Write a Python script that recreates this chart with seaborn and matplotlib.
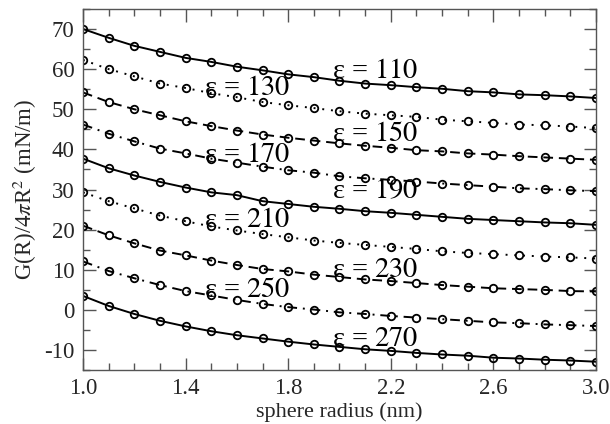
import numpy as np
import pandas as pd
import seaborn as sns
import matplotlib.pyplot as plt
from matplotlib.ticker import MultipleLocator

radius = [1.0, 1.1, 1.2, 1.3, 1.4, 1.5, 1.6, 1.7, 1.8, 1.9, 2.0,
          2.1, 2.2, 2.3, 2.4, 2.5, 2.6, 2.7, 2.8, 2.9, 3.0]

eps_110 = [70.0, 67.8, 65.8, 64.3, 62.8, 61.8, 60.6, 59.7, 58.7, 58.0, 57.1,
           56.4, 56.0, 55.5, 55.1, 54.5, 54.2, 53.7, 53.5, 53.2, 52.8]
eps_130 = [62.3, 60.0, 58.2, 56.4, 55.3, 54.0, 53.0, 51.8, 51.0, 50.3, 49.5,
           48.9, 48.5, 48.1, 47.4, 47.0, 46.6, 46.2, 46.0, 45.7, 45.3]
eps_150 = [54.2, 51.8, 50.0, 48.5, 47.0, 45.8, 44.7, 43.7, 42.9, 42.2, 41.5,
           40.9, 40.4, 39.8, 39.5, 39.0, 38.7, 38.3, 38.0, 37.7, 37.4]
eps_170 = [46.2, 43.9, 42.0, 40.2, 39.0, 37.7, 36.7, 35.7, 34.8, 34.2, 33.3,
           32.8, 32.4, 32.0, 31.5, 31.1, 30.7, 30.3, 30.1, 29.8, 29.6]
eps_190 = [37.7, 35.3, 33.5, 31.9, 30.5, 29.3, 28.6, 27.1, 26.4, 25.7, 25.2,
           24.6, 24.2, 23.7, 23.2, 22.7, 22.4, 22.1, 21.8, 21.6, 21.2]
eps_210 = [29.3, 27.1, 25.3, 23.5, 22.1, 20.8, 19.8, 18.9, 18.1, 17.3, 16.7,
           16.2, 15.7, 15.2, 14.6, 14.2, 13.9, 13.6, 13.3, 13.1, 12.8]
eps_230 = [21.0, 18.6, 16.6, 14.8, 13.6, 12.3, 11.2, 10.2, 9.6, 8.8, 8.2,
           7.6, 7.2, 6.7, 6.2, 5.8, 5.4, 5.2, 5.0, 4.7, 4.6]
eps_250 = [12.1, 9.7, 7.9, 6.2, 4.7, 3.6, 2.5, 1.5, 0.7, 0.1, -0.6,
           -1.0, -1.5, -1.9, -2.3, -2.7, -3.1, -3.3, -3.6, -3.8, -4.0]
eps_270 = [3.5, 1.0, -1.0, -2.7, -4.1, -5.3, -6.3, -7.1, -7.9, -8.6, -9.2,
           -9.8, -10.2, -10.7, -11.1, -11.4, -11.9, -12.1, -12.4, -12.6, -12.9]

eps_values = [110, 130, 150, 170, 190, 210, 230, 250, 270]
series = [eps_110, eps_130, eps_150, eps_170, eps_190,
          eps_210, eps_230, eps_250, eps_270]

# label anchor (radius, value) for each curve
label_x = [1.97, 1.47, 1.97, 1.47, 1.97, 1.47, 1.97, 1.47, 1.97]
label_y = [59.4, 55.1, 43.6, 38.6, 29.4, 22.4, 9.9, 4.9, -7.4]

styles = ['-', (0, (1, 3.5)), (0, (5, 3)), (0, (5, 3, 1, 3)),
          '-', (0, (1, 3.5)), (0, (5, 3)), (0, (5, 3, 1, 3)), '-']

sns.set_style('ticks')
plt.rcParams['font.family'] = ['Liberation Serif', 'DejaVu Serif']
plt.rcParams['mathtext.fontset'] = 'stix'
plt.rcParams['axes.unicode_minus'] = False

fig = plt.figure(figsize=(6.1, 4.24), dpi=100)
ax = fig.add_axes([0.136, 0.127, 0.841, 0.852])

for eps, vals, ls in zip(eps_values, series, styles):
    df = pd.DataFrame({'R': radius, 'G': vals})
    sns.lineplot(data=df, x='R', y='G', ax=ax, color='black', linestyle=ls,
                 linewidth=1.4, marker='o', markersize=5.4,
                 markerfacecolor='none', markeredgecolor='black',
                 markeredgewidth=1.3, legend=False)

for eps, lx, ly in zip(eps_values, label_x, label_y):
    ax.text(lx, ly, '\u03b5 = $\\mathit{%d}$' % eps, fontsize=20.5,
            ha='left', va='center', color='black')

ax.set_xlim(1.0, 3.0)
ax.set_ylim(-15, 75)
ax.xaxis.set_minor_locator(MultipleLocator(0.1))
ax.yaxis.set_major_locator(MultipleLocator(10))
ax.yaxis.set_minor_locator(MultipleLocator(5))
ax.set_xticks(np.arange(1.0, 3.01, 0.4))
ax.set_xticklabels(['1.0', '1.4', '1.8', '2.2', '2.6', '3.0'])
ax.tick_params(which='both', direction='in', top=True, right=True,
               color='#555555', labelsize=16.5, pad=6)
ax.tick_params(which='major', length=9, width=1)
ax.tick_params(which='minor', length=5, width=1)
for sp in ax.spines.values():
    sp.set_color('#555555')
    sp.set_linewidth(1)

ax.set_xlabel('sphere radius (nm)', fontsize=16, labelpad=2)
ax.set_ylabel('G(R)/4$\\pi$R$^2$ (mN/m)', fontsize=16.5, labelpad=4)

fig.savefig('out.png', dpi=100)
